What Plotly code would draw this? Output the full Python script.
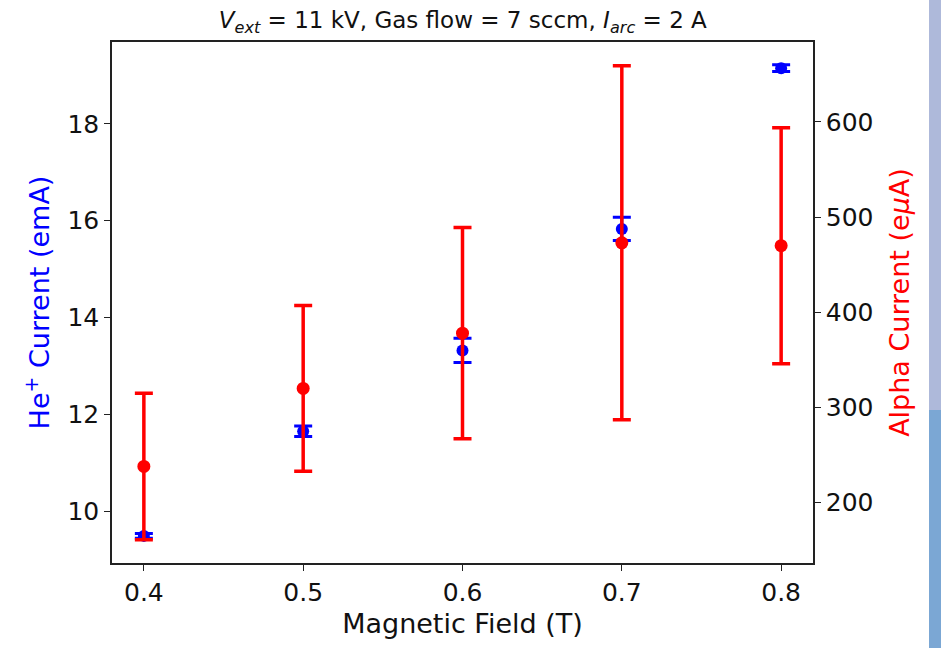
import plotly.graph_objects as go

field = [0.4, 0.5, 0.6, 0.7, 0.8]
he_current = [9.49, 11.65, 13.32, 15.83, 19.15]
he_err = [0.05, 0.11, 0.25, 0.24, 0.07]
alpha_current = [238, 320, 378, 473, 470]
alpha_err = [77, 87, 111, 186, 124]

x_ticks = [0.4, 0.5, 0.6, 0.7, 0.8]
left_ticks = [10, 12, 14, 16, 18]
right_ticks = [200, 300, 400, 500, 600]

FONT = "DejaVu Sans"

fig = go.Figure()
fig.add_trace(go.Scatter(
    x=field, y=he_current, mode="markers",
    marker=dict(color="blue", size=12),
    error_y=dict(type="data", array=he_err, color="blue", thickness=3, width=9),
    yaxis="y", showlegend=False))
fig.add_trace(go.Scatter(
    x=field, y=alpha_current, mode="markers",
    marker=dict(color="red", size=13),
    error_y=dict(type="data", array=alpha_err, color="red", thickness=3.5, width=9),
    yaxis="y2", showlegend=False))

axis_common = dict(showgrid=False, zeroline=False, showline=True, linecolor="#222",
                   linewidth=1.5, ticks="outside", ticklen=6, tickwidth=1.3, tickcolor="#222",
                   tickfont=dict(family=FONT, size=25, color="#111"))

PL, PR, PT, PB = 112, 813, 42, 563
W, H = 941, 648
pw, ph = PR - PL, PB - PT

fig.update_layout(
    width=W, height=H,
    paper_bgcolor="white", plot_bgcolor="white",
    margin=dict(l=PL, r=W - PR, t=PT, b=H - PB),
    font=dict(family=FONT),
    title=dict(text="<i>V</i><sub><i>ext</i></sub> = 11 kV, Gas flow = 7 sccm, <i>I</i><sub><i>arc</i></sub> = 2 A",
               x=0.4918, xanchor="center", y=1 - 20 / H, yanchor="middle",
               font=dict(family=FONT, size=23, color="#111")),
    xaxis=dict(range=[0.38, 0.82], tickvals=x_ticks, ticktext=[f"{v:.1f}" for v in x_ticks],
               mirror=True,
               title=dict(text="Magnetic Field (T)", font=dict(family=FONT, size=27, color="#111"), standoff=8),
               **axis_common),
    yaxis=dict(range=[8.93, 19.69], tickvals=left_ticks,
               title=dict(text="He<sup>+</sup> Current (emA)", font=dict(family=FONT, size=27, color="blue"), standoff=10),
               **axis_common),
    yaxis2=dict(range=[136.5, 684], tickvals=right_ticks, overlaying="y", side="right",
                title=dict(text="Alpha Current (e<i>μ</i>A)", font=dict(family=FONT, size=27, color="red"), standoff=18),
                **axis_common),
    shapes=[
        dict(type="rect", xref="paper", yref="paper", x0=(929 - PL) / pw, x1=(945 - PL) / pw,
             y0=-(H - PB) / ph, y1=PB / ph, fillcolor="#aeb9da", line=dict(width=0), layer="below"),
        dict(type="rect", xref="paper", yref="paper", x0=(929 - PL) / pw, x1=(945 - PL) / pw,
             y0=-(H - PB) / ph, y1=(PB - 410) / ph, fillcolor="#7ba7d4", line=dict(width=0), layer="below"),
    ],
)

fig.write_html("out.html", config={"displayModeBar": False},
               post_script="document.body.style.margin='0px';document.body.style.overflow='hidden';")
